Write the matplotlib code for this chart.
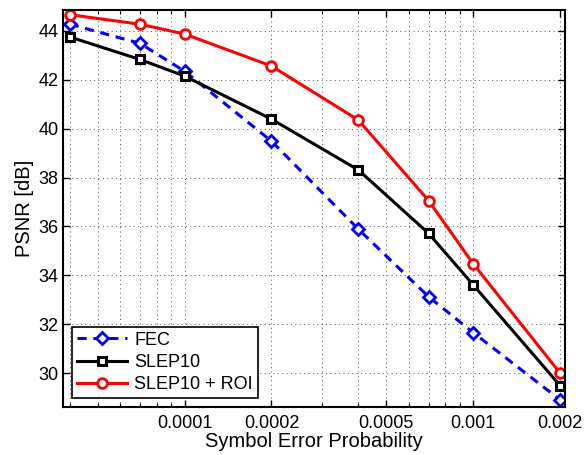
import matplotlib
matplotlib.use("Agg")
import matplotlib.pyplot as plt
from matplotlib.ticker import FixedLocator, NullFormatter, LogLocator

plt.rcParams['font.family'] = ['Liberation Sans', 'DejaVu Sans']

ser = [4e-5, 7e-5, 1e-4, 2e-4, 4e-4, 7e-4, 1e-3, 2e-3]
fec = [44.27, 43.49, 42.35, 39.49, 35.89, 33.13, 31.66, 28.91]
slep10 = [43.75, 42.83, 42.15, 40.39, 38.31, 35.72, 33.61, 29.49]
slep10_roi = [44.66, 44.27, 43.87, 42.56, 40.35, 37.06, 34.47, 30.0]
labels = ["FEC", "SLEP10", "SLEP10 + ROI"]
xticks = [1e-4, 2e-4, 5e-4, 1e-3, 2e-3]
xticklabels = ["0.0001", "0.0002", "0.0005", "0.001", "0.002"]
yticks = [30, 32, 34, 36, 38, 40, 42, 44]

fig = plt.figure(figsize=(5.85, 4.55), dpi=100)
ax = fig.add_axes([0.108, 0.1055, 0.858, 0.8725])

ax.plot(ser, fec, color='blue', ls=(0, (3, 2.2)), lw=2.2, marker='D', ms=6,
        mfc='white', mec='blue', mew=2, label=labels[0])
ax.plot(ser, slep10, color='black', lw=2.2, marker='s', ms=6,
        mfc='white', mec='black', mew=2.2, label=labels[1])
ax.plot(ser, slep10_roi, color='red', lw=2.2, marker='o', ms=7,
        mfc='white', mec='red', mew=2, label=labels[2])

ax.set_xscale('log')
ax.set_xlim(3.8e-5, 2.08e-3)
ax.set_ylim(28.62, 44.85)
ax.xaxis.set_major_locator(FixedLocator(xticks))
ax.set_xticklabels(xticklabels)
ax.xaxis.set_minor_locator(LogLocator(base=10, subs=[1, 2, 3, 4, 5, 6, 7, 8, 9], numticks=20))
ax.xaxis.set_minor_formatter(NullFormatter())
ax.set_yticks(yticks)

ax.grid(True, which='major', ls=(0, (1, 3.5)), color='#555555', lw=0.7)
ax.grid(True, which='minor', axis='x', ls=(0, (1, 3.5)), color='#555555', lw=0.7)
ax.tick_params(which='both', direction='in', top=True, right=True, labelsize=13)
ax.tick_params(which='major', length=5, width=1)
ax.tick_params(which='minor', length=3, width=0.8)
ax.tick_params(axis='x', pad=6)
for s in ax.spines.values():
    s.set_linewidth(1.5)

ax.set_xlabel("Symbol Error Probability", fontsize=14.5, labelpad=0)
ax.set_ylabel("PSNR [dB]", fontsize=14.5, labelpad=3)

leg = ax.legend(loc='lower left', fontsize=13, fancybox=False, framealpha=1,
                edgecolor='black', borderaxespad=0.5, handlelength=2.8,
                borderpad=0.25, labelspacing=0.3, handletextpad=0.4)
leg.get_frame().set_linewidth(1.2)

fig.savefig("out.png", dpi=100)
